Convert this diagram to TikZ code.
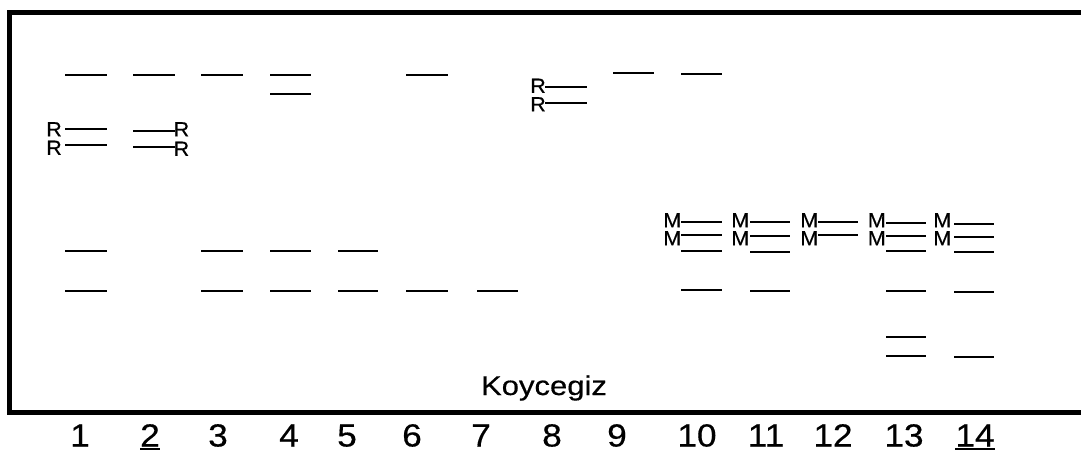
\documentclass[tikz,border=0pt]{standalone}
\usepackage{graphicx}
\usepackage{fontspec}
\setmainfont{Liberation Sans}[FakeBold=0.4]
\newcommand{\wideR}[1]{\scalebox{1.05}[1]{#1}}
\newcommand{\wideN}[1]{\scalebox{1.1}[1]{#1}}
\newcommand{\wideT}[1]{\scalebox{1.15}[1]{#1}}
\begin{document}
\begin{tikzpicture}[x=1pt,y=-1pt,
  band/.style={line width=2.2pt},
  frame/.style={line width=5pt,line join=miter},
  tag/.style={inner sep=0pt,text height=14.7pt,text depth=0pt,font=\fontsize{20.5}{20.5}\selectfont},
  lanenum/.style={inner sep=0pt,anchor=base,text depth=0pt,font=\fontsize{32}{32}\selectfont},
  title/.style={inner sep=0pt,anchor=base,font=\fontsize{27}{27}\selectfont}]
\useasboundingbox (0,0) rectangle (1081,451);
\fill[white] (0,0) rectangle (1081,451);
% frame, open to the right
\draw[frame] (1090,12.5) -- (9.5,12.5) -- (9.5,412.5) -- (1090,412.5);
% bands: lane x-range and y positions
\foreach \y in {75,129,145,251,291} \draw[band] (65,\y) -- (107,\y);
\foreach \y in {75,131,147} \draw[band] (133,\y) -- (175,\y);
\foreach \y in {75,251,291} \draw[band] (201,\y) -- (243,\y);
\foreach \y in {75,94,251,291} \draw[band] (270,\y) -- (311,\y);
\foreach \y in {251,291} \draw[band] (338,\y) -- (378,\y);
\foreach \y in {75,291} \draw[band] (406,\y) -- (448,\y);
\foreach \y in {291} \draw[band] (477,\y) -- (518,\y);
\foreach \y in {87,103} \draw[band] (545,\y) -- (587,\y);
\foreach \y in {73} \draw[band] (613,\y) -- (654,\y);
\foreach \y in {74,222,235,251,290} \draw[band] (681,\y) -- (722,\y);
\foreach \y in {222,236,252,291} \draw[band] (750,\y) -- (790,\y);
\foreach \y in {222,235} \draw[band] (818,\y) -- (858,\y);
\foreach \y in {223,236,251,291,337,356} \draw[band] (886,\y) -- (926,\y);
\foreach \y in {224,237,252,292,357} \draw[band] (954,\y) -- (994,\y);
% R labels
\node[tag,anchor=east] (r1a) at (62,129) {\wideR{R}};
\node[tag,anchor=east] (r1b) at (62,147.5) {\wideR{R}};
\node[tag,anchor=west] (r2a) at (173.5,129) {\wideR{R}};
\node[tag,anchor=west] (r2b) at (173.5,148.5) {\wideR{R}};
\node[tag,anchor=east] (r8a) at (546,85.5) {\wideR{R}};
\node[tag,anchor=east] (r8b) at (546,104) {\wideR{R}};
% M labels
\foreach \x/\n in {681.5/10,749.5/11,818.5/12,886/13,951.5/14}{
  \node[tag,anchor=east] (m\n a) at (\x,220) {\wideR{M}};
  \node[tag,anchor=east] (m\n b) at (\x,238) {\wideR{M}};
}
% title
\node[title] (koy) at (544,395) {\wideT{Koycegiz}};
% lane numbers
\foreach \x/\n in {80/1,218/3,289/4,347/5,412/6,481/7,552/8,617/9,697/10,766/11,833/12,904/13}
  \node[lanenum] (n\n) at (\x,446.5) {\wideN{\n}};
\node[lanenum] (n2) at (150,446.5) {\wideN{2}};
\node[lanenum] (n14) at (975,446.5) {\wideN{14}};
\draw[line width=2.5pt] ([yshift=-2.5pt]n2.base west) -- ([yshift=-2.5pt]n2.base east);
\draw[line width=2.5pt] ([yshift=-2.5pt]n14.base west) -- ([yshift=-2.5pt]n14.base east);
\end{tikzpicture}
\end{document}
